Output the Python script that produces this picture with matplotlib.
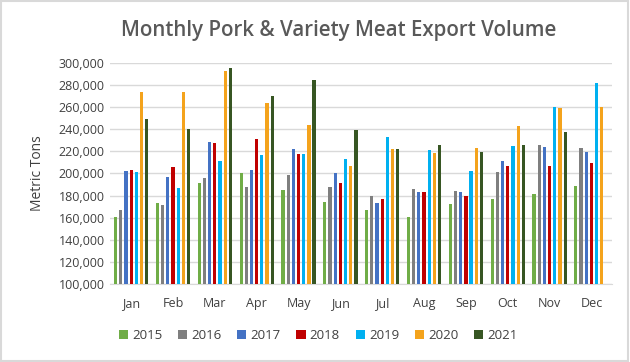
import numpy as np
import matplotlib.pyplot as plt
from matplotlib.patches import Rectangle

plt.rcParams['font.family'] = ['Open Sans', 'DejaVu Sans']

# data (metric tons)
months = ['Jan', 'Feb', 'Mar', 'Apr', 'May', 'Jun',
          'Jul', 'Aug', 'Sep', 'Oct', 'Nov', 'Dec']
years = ['2015', '2016', '2017', '2018', '2019', '2020', '2021']
v2015 = [161000, 173500, 191000, 200000, 185000, 174500, 167000, 160500, 172000, 177000, 181500, 188500]
v2016 = [167000, 171500, 195500, 188000, 199000, 188000, 180000, 186000, 184000, 201000, 225500, 222500]
v2017 = [202000, 197000, 228000, 203000, 222000, 200000, 173500, 183500, 183500, 211500, 224000, 219500]
v2018 = [203500, 205500, 227000, 231000, 217500, 191000, 176500, 183000, 179500, 207000, 207000, 209500]
v2019 = [201500, 186500, 211000, 216500, 217500, 213000, 233000, 221000, 202500, 224500, 259500, 282000]
v2020 = [273500, 273500, 292000, 264000, 243500, 207000, 222000, 218000, 222500, 242500, 259000, 259500]
v2021 = [249000, 240000, 295000, 270000, 284000, 239000, 222000, 225500, 219500, 226000, 237500, np.nan]
series = [v2015, v2016, v2017, v2018, v2019, v2020, v2021]
colors = ['#70AD47', '#7F7F7F', '#4472C4', '#C00000', '#00B0F0', '#F4A31C', '#375623']

fig = plt.figure(figsize=(6.3, 3.62), dpi=100)
fig.patches.append(Rectangle((0.002, 0.003), 0.995, 0.994, transform=fig.transFigure,
                             fill=False, edgecolor='#D9D9D9', linewidth=1.5))
ax = fig.add_axes([0.175, 0.215, 0.797, 0.612])

x = np.arange(len(months))
slot = 0.124
for i, (vals, c, yr) in enumerate(zip(series, colors, years)):
    ax.bar(x + (i - 3) * slot, vals, width=slot * 0.62, color=c, label=yr, zorder=3)

ax.set_ylim(100000, 300000)
ax.set_yticks(np.arange(100000, 300001, 20000))
ax.yaxis.set_major_formatter(plt.FuncFormatter(lambda v, p: f'{int(v):,}'))
ax.set_xlim(-0.5, len(months) - 0.5)
ax.set_xticks(x)
ax.set_xticklabels(months)
ax.grid(axis='y', color='#D9D9D9', linewidth=1, zorder=0)
for s in ['top', 'right', 'left']:
    ax.spines[s].set_visible(False)
ax.spines['bottom'].set_color('#D9D9D9')
ax.tick_params(length=0, labelsize=9, colors='#404040', pad=4)
ax.tick_params(axis='x', pad=9)

ax.set_ylabel('Metric Tons', fontsize=10, color='#404040', labelpad=10, fontweight='medium')
fig.text(0.537, 0.915, 'Monthly Pork & Variety Meat Export Volume', ha='center', va='center',
         fontsize=14.8, color='#595959', fontweight='semibold')

fig.legend(loc='center', bbox_to_anchor=(0.505, 0.072), ncol=7, frameon=False,
           fontsize=9.5, handlelength=0.7, handleheight=0.7, handletextpad=0.3,
           columnspacing=1.2, labelcolor='#404040')

fig.savefig('out.png', dpi=100)
